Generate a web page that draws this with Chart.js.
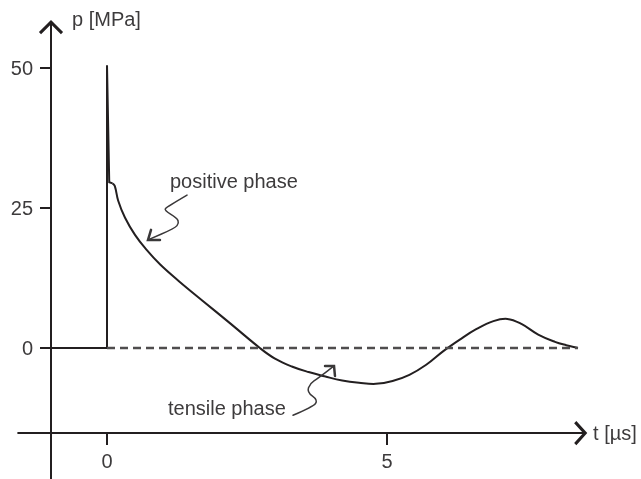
<!DOCTYPE html>
<html>
<head>
<meta charset="utf-8">
<script src="https://cdn.jsdelivr.net/npm/chart.js@4.4.1/dist/chart.umd.min.js"></script>
<style>
  html, body { margin: 0; padding: 0; background: #fff; }
  #wrap { width: 641px; height: 479px; position: relative; }
</style>
</head>
<body>
<div id="wrap"><canvas id="pulseChart"></canvas></div>
<script>
// pressure pulse, values (t in µs, p in MPa)
const spikeT = [0, 0, 0.04, 0.1];
const spikeP = [0, 50.5, 29.6, 29.4];

const curveT = [0.1, 0.14, 0.2, 0.32, 0.5, 0.7, 0.95, 1.3, 1.7, 2.2, 2.73, 3.0, 3.3, 3.6, 3.9,
  4.2, 4.5, 4.8, 5.1, 5.4, 5.7, 6.0, 6.3, 6.6, 6.9, 7.15, 7.4, 7.7, 8.0, 8.2, 8.41];
const curveP = [29.4, 28.9, 26.3, 23.3, 20.2, 17.6, 14.9, 11.8, 8.5, 4.4, 0, -1.9, -3.3, -4.3, -5.1,
  -5.8, -6.2, -6.4, -5.9, -4.8, -3.0, -0.6, 1.5, 3.4, 4.8, 5.2, 4.3, 2.4, 1.1, 0.5, 0];

const baseT = [-1, 0];
const dashT = [0, 8.41];

const yTicks = [0, 25, 50];
const xTicks = [0, 5];

const yTitle = 'p [MPa]';
const xTitle = 't [µs]';

// annotations: label + squiggly arrow, in data units
const notes = [
  {
    text: 'positive phase',
    at: [1.125, 28.6],
    path: [[1.429, 27.3], [1.071, 25.2], [1.018, 24.6], [1.25, 23.2], [1.286, 22.3], [1.214, 21.4], [0.732, 19.3]],
    head: [[0.786, 21.1], [0.732, 19.3], [0.946, 19.3]]
  },
  {
    text: 'tensile phase',
    at: [1.089, -12.0],
    path: [[3.321, -12.0], [3.679, -10.5], [3.768, -9.3], [3.571, -7.9], [3.625, -6.3], [3.768, -5.4], [4.054, -3.2]],
    head: [[3.893, -3.2], [4.054, -3.2], [4.071, -5.0]]
  }
];

const ink = '#231f20';
const textInk = '#3d3b3c';
const font = '20px "Liberation Sans", Arial, sans-serif';

function pts(xs, ys) {
  return xs.map((t, i) => ({x: t, y: ys[i]}));
}

function strokePath(ctx, points) {
  ctx.beginPath();
  points.forEach((p, i) => i ? ctx.lineTo(p[0], p[1]) : ctx.moveTo(p[0], p[1]));
  ctx.stroke();
}

// rounded polyline for the hand-drawn squiggles
function strokeSmooth(ctx, points) {
  ctx.beginPath();
  ctx.moveTo(points[0][0], points[0][1]);
  for (let i = 1; i < points.length - 1; i++) {
    const mx = (points[i][0] + points[i + 1][0]) / 2;
    const my = (points[i][1] + points[i + 1][1]) / 2;
    ctx.quadraticCurveTo(points[i][0], points[i][1], mx, my);
  }
  const last = points[points.length - 1];
  ctx.lineTo(last[0], last[1]);
  ctx.stroke();
}

const axesPlugin = {
  id: 'axes',
  beforeDatasetsDraw(chart) {
    const {ctx, scales: {x, y}} = chart;
    const ax = x.getPixelForValue(-1);      // p axis sits at t = -1
    const ay = y.getPixelForValue(-15.2);   // t axis sits at p = -15.2
    ctx.save();
    ctx.strokeStyle = ink;
    ctx.lineWidth = 2;
    // t axis
    strokePath(ctx, [[x.getPixelForValue(-1.6), ay], [x.getPixelForValue(8.54) - 2, ay]]);
    // p axis
    strokePath(ctx, [[ax, chart.chartArea.bottom], [ax, y.getPixelForValue(58.2) + 2]]);

    // ticks
    yTicks.forEach(v => strokePath(ctx, [[ax - 11, y.getPixelForValue(v)], [ax, y.getPixelForValue(v)]]));
    xTicks.forEach(v => strokePath(ctx, [[x.getPixelForValue(v), ay], [x.getPixelForValue(v), ay + 12]]));

    // arrow heads
    ctx.lineWidth = 3;
    ctx.lineJoin = 'miter';
    const tipY = y.getPixelForValue(58.2);
    strokePath(ctx, [[ax - 11, tipY + 11], [ax, tipY], [ax + 11, tipY + 11]]);
    const tipX = x.getPixelForValue(8.54);
    strokePath(ctx, [[tipX - 10, ay - 11], [tipX, ay], [tipX - 10, ay + 11]]);

    // labels
    ctx.fillStyle = textInk;
    ctx.font = font;
    ctx.textBaseline = 'alphabetic';
    ctx.textAlign = 'right';
    yTicks.forEach(v => ctx.fillText(String(v), ax - 18, y.getPixelForValue(v) + 7));
    ctx.textAlign = 'center';
    xTicks.forEach(v => ctx.fillText(String(v), x.getPixelForValue(v), ay + 35));
    ctx.textAlign = 'left';
    ctx.fillText(yTitle, x.getPixelForValue(-0.625), y.getPixelForValue(57.5));
    ctx.textBaseline = 'middle';
    ctx.fillText(xTitle, x.getPixelForValue(8.68), ay + 1);
    ctx.restore();
  },
  afterDatasetsDraw(chart) {
    const {ctx, scales: {x, y}} = chart;
    const px = p => [x.getPixelForValue(p[0]), y.getPixelForValue(p[1])];
    ctx.save();
    ctx.fillStyle = textInk;
    ctx.font = font;
    ctx.textAlign = 'left';
    ctx.textBaseline = 'alphabetic';
    ctx.strokeStyle = '#3a3839';
    ctx.lineJoin = 'round';
    ctx.lineCap = 'round';
    notes.forEach(n => {
      const at = px(n.at);
      ctx.fillText(n.text, at[0], at[1]);
      ctx.lineWidth = 1.5;
      strokeSmooth(ctx, n.path.map(px));
      ctx.lineWidth = 2.5;
      ctx.lineJoin = 'miter';
      strokePath(ctx, n.head.map(px));
      ctx.lineJoin = 'round';
    });
    ctx.restore();
  }
};

let config = {
  type: 'line',
  data: {
    datasets: [
      {
        data: pts(baseT, [0, 0]),
        borderColor: ink,
        borderWidth: 2,
        pointRadius: 0
      },
      {
        data: pts(dashT, [0, 0]),
        borderColor: '#4f4d4e',
        borderWidth: 2.5,
        borderDash: [8, 5],
        pointRadius: 0
      },
      {
        data: pts(spikeT, spikeP),
        borderColor: ink,
        borderWidth: 2,
        pointRadius: 0,
        tension: 0
      },
      {
        data: pts(curveT, curveP),
        borderColor: ink,
        borderWidth: 2,
        pointRadius: 0,
        tension: 0.4
      }
    ]
  },
  options: {
    responsive: true,
    maintainAspectRatio: false,
    animation: false,
    layout: { padding: 0 },
    scales: {
      x: { type: 'linear', min: -107 / 56, max: 534 / 56, display: false },
      y: { type: 'linear', min: -131 / 5.6, max: 348 / 5.6, display: false }
    },
    plugins: {
      legend: { display: false },
      tooltip: { enabled: false }
    }
  },
  plugins: [axesPlugin]
};

let pulseChart = new Chart(document.getElementById('pulseChart'), config);
</script>
</body>
</html>
